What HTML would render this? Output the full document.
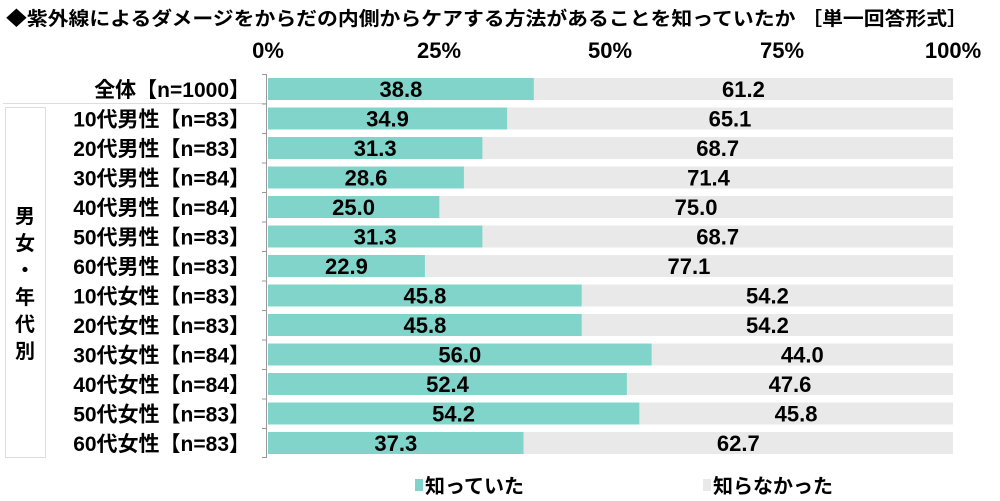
<!DOCTYPE html>
<html><head><meta charset="utf-8"><style>
body{margin:0;background:#fff;}
svg{display:block;font-family:"Liberation Sans","Noto Sans CJK JP",sans-serif;}
</style></head><body>
<svg width="1000" height="501" viewBox="0 0 1000 501">
<text x="6" y="25" font-size="19" font-weight="bold" fill="#000" textLength="962" lengthAdjust="spacingAndGlyphs">◆紫外線によるダメージをからだの内側からケアする方法があることを知っていたか ［単一回答形式］</text>
<g font-size="22" font-weight="bold" text-anchor="middle" fill="#000">
<text x="268" y="58">0%</text><text x="439" y="58">25%</text><text x="610" y="58">50%</text><text x="782" y="58">75%</text><text x="953" y="58">100%</text>
</g>
<line x1="3" y1="103.5" x2="266" y2="103.5" stroke="#ddd"/>
<rect x="5.5" y="107.5" width="40" height="350" fill="none" stroke="#ddd"/>
<g font-size="20" font-weight="bold" text-anchor="middle">
<text x="25" y="223">男</text><text x="25" y="250">女</text><text x="25" y="277">・</text><text x="25" y="304">年</text><text x="25" y="331">代</text><text x="25" y="358">別</text>
</g>
<line x1="266.5" y1="74" x2="266.5" y2="458" stroke="#999"/>
<g fill="#e9e9e9">
<rect x="268" y="78" width="685" height="22"/>
<rect x="268" y="107.5" width="685" height="22"/>
<rect x="268" y="137" width="685" height="22"/>
<rect x="268" y="166.5" width="685" height="22"/>
<rect x="268" y="196" width="685" height="22"/>
<rect x="268" y="225.5" width="685" height="22"/>
<rect x="268" y="255" width="685" height="22"/>
<rect x="268" y="284.5" width="685" height="22"/>
<rect x="268" y="314" width="685" height="22"/>
<rect x="268" y="343.5" width="685" height="22"/>
<rect x="268" y="373" width="685" height="22"/>
<rect x="268" y="402.5" width="685" height="22"/>
<rect x="268" y="432" width="685" height="22"/>
</g>
<g fill="#80d4ca">
<rect x="268" y="78" width="265.8" height="22"/>
<rect x="268" y="107.5" width="239.1" height="22"/>
<rect x="268" y="137" width="214.4" height="22"/>
<rect x="268" y="166.5" width="195.9" height="22"/>
<rect x="268" y="196" width="171.3" height="22"/>
<rect x="268" y="225.5" width="214.4" height="22"/>
<rect x="268" y="255" width="156.9" height="22"/>
<rect x="268" y="284.5" width="313.7" height="22"/>
<rect x="268" y="314" width="313.7" height="22"/>
<rect x="268" y="343.5" width="383.6" height="22"/>
<rect x="268" y="373" width="358.9" height="22"/>
<rect x="268" y="402.5" width="371.3" height="22"/>
<rect x="268" y="432" width="255.5" height="22"/>
</g>
<g stroke="#999">
<line x1="262" x2="267" y1="74.5" y2="74.5"/><line x1="262" x2="267" y1="104" y2="104"/><line x1="262" x2="267" y1="133.5" y2="133.5"/><line x1="262" x2="267" y1="163" y2="163"/><line x1="262" x2="267" y1="192.5" y2="192.5"/><line x1="262" x2="267" y1="222" y2="222"/><line x1="262" x2="267" y1="251.5" y2="251.5"/><line x1="262" x2="267" y1="281" y2="281"/><line x1="262" x2="267" y1="310.5" y2="310.5"/><line x1="262" x2="267" y1="340" y2="340"/><line x1="262" x2="267" y1="369.5" y2="369.5"/><line x1="262" x2="267" y1="399" y2="399"/><line x1="262" x2="267" y1="428.5" y2="428.5"/><line x1="262" x2="267" y1="457.5" y2="457.5"/>
</g>
<g font-size="21" font-weight="bold" text-anchor="end">
<text x="250" y="97">全体【n=1000】</text>
<text x="250" y="126.5">10代男性【n=83】</text>
<text x="250" y="156">20代男性【n=83】</text>
<text x="250" y="185.5">30代男性【n=84】</text>
<text x="250" y="215">40代男性【n=84】</text>
<text x="250" y="244.5">50代男性【n=83】</text>
<text x="250" y="274">60代男性【n=83】</text>
<text x="250" y="303.5">10代女性【n=83】</text>
<text x="250" y="333">20代女性【n=83】</text>
<text x="250" y="362.5">30代女性【n=84】</text>
<text x="250" y="392">40代女性【n=84】</text>
<text x="250" y="421.5">50代女性【n=83】</text>
<text x="250" y="451">60代女性【n=83】</text>
</g>
<g font-size="22" font-weight="bold" text-anchor="middle">
<text x="400.9" y="97">38.8</text><text x="743.4" y="97">61.2</text>
<text x="387.5" y="126.5">34.9</text><text x="730" y="126.5">65.1</text>
<text x="375.2" y="156">31.3</text><text x="717.7" y="156">68.7</text>
<text x="366" y="185.5">28.6</text><text x="708.5" y="185.5">71.4</text>
<text x="353.6" y="215">25.0</text><text x="696.1" y="215">75.0</text>
<text x="375.2" y="244.5">31.3</text><text x="717.7" y="244.5">68.7</text>
<text x="346.4" y="274">22.9</text><text x="688.9" y="274">77.1</text>
<text x="424.9" y="303.5">45.8</text><text x="767.4" y="303.5">54.2</text>
<text x="424.9" y="333">45.8</text><text x="767.4" y="333">54.2</text>
<text x="459.8" y="362.5">56.0</text><text x="802.3" y="362.5">44.0</text>
<text x="447.5" y="392">52.4</text><text x="790" y="392">47.6</text>
<text x="453.6" y="421.5">54.2</text><text x="796.1" y="421.5">45.8</text>
<text x="395.8" y="451">37.3</text><text x="738.3" y="451">62.7</text>
</g>
<g font-size="20" font-weight="bold">
<rect x="415" y="479" width="8" height="12" fill="#80d4ca"/><text x="425" y="493">知っていた</text>
<rect x="703" y="479" width="8" height="12" fill="#e9e9e9"/><text x="713" y="493">知らなかった</text>
</g>
</svg>
</body></html>
